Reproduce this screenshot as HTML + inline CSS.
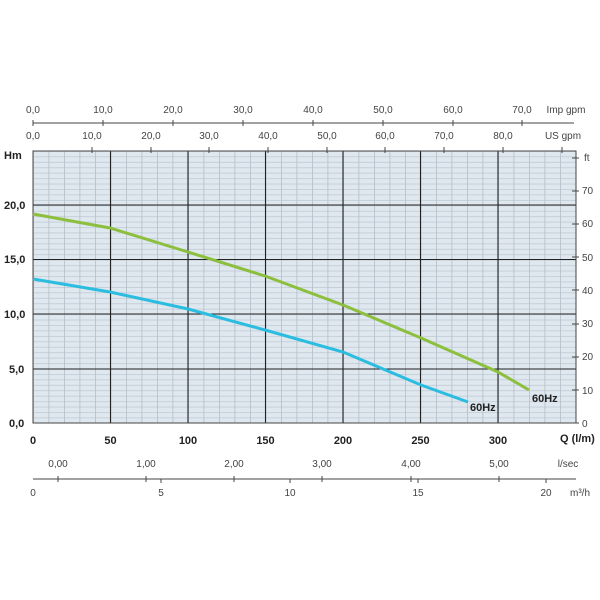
<!DOCTYPE html>
<html><head><style>body{margin:0;background:#fff}svg{display:block}text{font-family:"Liberation Sans",sans-serif}</style></head><body>
<svg width="600" height="600" xmlns="http://www.w3.org/2000/svg">
<defs>
<pattern id="pv" patternUnits="userSpaceOnUse" x="33" y="0" width="15.5" height="10"><rect x="0" y="0" width="0.8" height="10" fill="#b3bfc9"/></pattern>
<pattern id="ph" patternUnits="userSpaceOnUse" x="0" y="423" width="10" height="5.44"><rect x="0" y="0" width="10" height="0.7" fill="#bcc7d0"/></pattern>
</defs>
<rect x="33" y="151" width="543" height="272" fill="#dfe7ef"/>
<rect x="33" y="151" width="543" height="272" fill="url(#ph)"/>
<rect x="33" y="151" width="543" height="272" fill="url(#pv)"/>
<g stroke="#222" stroke-width="1.1">
<line x1="110.5" y1="151" x2="110.5" y2="423"/><line x1="188" y1="151" x2="188" y2="423"/><line x1="265.5" y1="151" x2="265.5" y2="423"/><line x1="343" y1="151" x2="343" y2="423"/><line x1="420.5" y1="151" x2="420.5" y2="423"/><line x1="498" y1="151" x2="498" y2="423"/>
<line x1="33" y1="369" x2="576" y2="369"/><line x1="33" y1="314" x2="576" y2="314"/><line x1="33" y1="259.5" x2="576" y2="259.5"/><line x1="33" y1="205" x2="576" y2="205"/>
</g>
<g stroke="#444" stroke-width="1" fill="none">
<rect x="33" y="151" width="543" height="272"/>
<line x1="33" y1="123" x2="574" y2="123"/>
<line x1="33" y1="479" x2="576" y2="479"/>
</g>
<path d="M33,214 L110,228 L188,252 L265,276 L343,305 L421,338 L498,372 L529,390" stroke="#8dbf3e" stroke-width="3" fill="none"/>
<path d="M33,279 L110,292 L188,309 L265,330 L343,352 L421,385 L468,402" stroke="#2bbde0" stroke-width="3" fill="none"/>
<g font-size="10" fill="#444" text-anchor="middle">
<text x="33" y="113">0,0</text><text x="103" y="113">10,0</text><text x="173" y="113">20,0</text><text x="243" y="113">30,0</text><text x="313" y="113">40,0</text><text x="383" y="113">50,0</text><text x="453" y="113">60,0</text><text x="522" y="113">70,0</text>
<text x="566" y="113">Imp gpm</text>
<text x="33" y="139">0,0</text><text x="92" y="139">10,0</text><text x="151" y="139">20,0</text><text x="209" y="139">30,0</text><text x="268" y="139">40,0</text><text x="327" y="139">50,0</text><text x="385" y="139">60,0</text><text x="444" y="139">70,0</text><text x="503" y="139">80,0</text>
<text x="563" y="139">US gpm</text>
<text x="58" y="467">0,00</text><text x="146" y="467">1,00</text><text x="234" y="467">2,00</text><text x="322" y="467">3,00</text><text x="411" y="467">4,00</text><text x="499" y="467">5,00</text><text x="568" y="467">l/sec</text>
<text x="33" y="496">0</text><text x="161" y="496">5</text><text x="290" y="496">10</text><text x="418" y="496">15</text><text x="546" y="496">20</text><text x="580" y="496">m³/h</text>
</g>
<g font-size="10" fill="#444">
<text x="584" y="161">ft</text><text x="582" y="194">70</text><text x="582" y="227">60</text><text x="582" y="261">50</text><text x="582" y="294">40</text><text x="582" y="327">30</text><text x="582" y="360">20</text><text x="582" y="394">10</text><text x="582" y="427">0</text>
</g>
<g stroke="#444" stroke-width="1">
<path d="M33,120v6M103,120v6M173,120v6M243,120v6M313,120v6M383,120v6M453,120v6M522,120v6"/>
<path d="M92,147v6M151,147v6M209,147v6M268,147v6M327,147v6M385,147v6M444,147v6M503,147v6M562,147v6"/>
<path d="M58,476v6M146,476v6M234,476v6M322,476v6M411,476v6M499,476v6M161,479v4M290,479v4M418,479v4M546,479v4"/>
<path d="M572,158h7M572,191h7M572,224h7M572,257h7M572,290h7M572,324h7M572,357h7M572,390h7M572,423h7"/>
</g>
<g font-size="11" font-weight="bold" fill="#222">
<text x="4" y="159">Hm</text>
<text x="4" y="209">20,0</text><text x="4" y="263">15,0</text><text x="4" y="318">10,0</text><text x="9" y="373">5,0</text><text x="9" y="427">0,0</text>
<text x="33" y="444" text-anchor="middle">0</text><text x="110.5" y="444" text-anchor="middle">50</text><text x="188" y="444" text-anchor="middle">100</text><text x="265.5" y="444" text-anchor="middle">150</text><text x="343" y="444" text-anchor="middle">200</text><text x="420.5" y="444" text-anchor="middle">250</text><text x="498" y="444" text-anchor="middle">300</text>
<text x="560" y="442">Q (l/m)</text>
<text x="470" y="411">60Hz</text><text x="532" y="402">60Hz</text>
</g>
</svg>
</body></html>
